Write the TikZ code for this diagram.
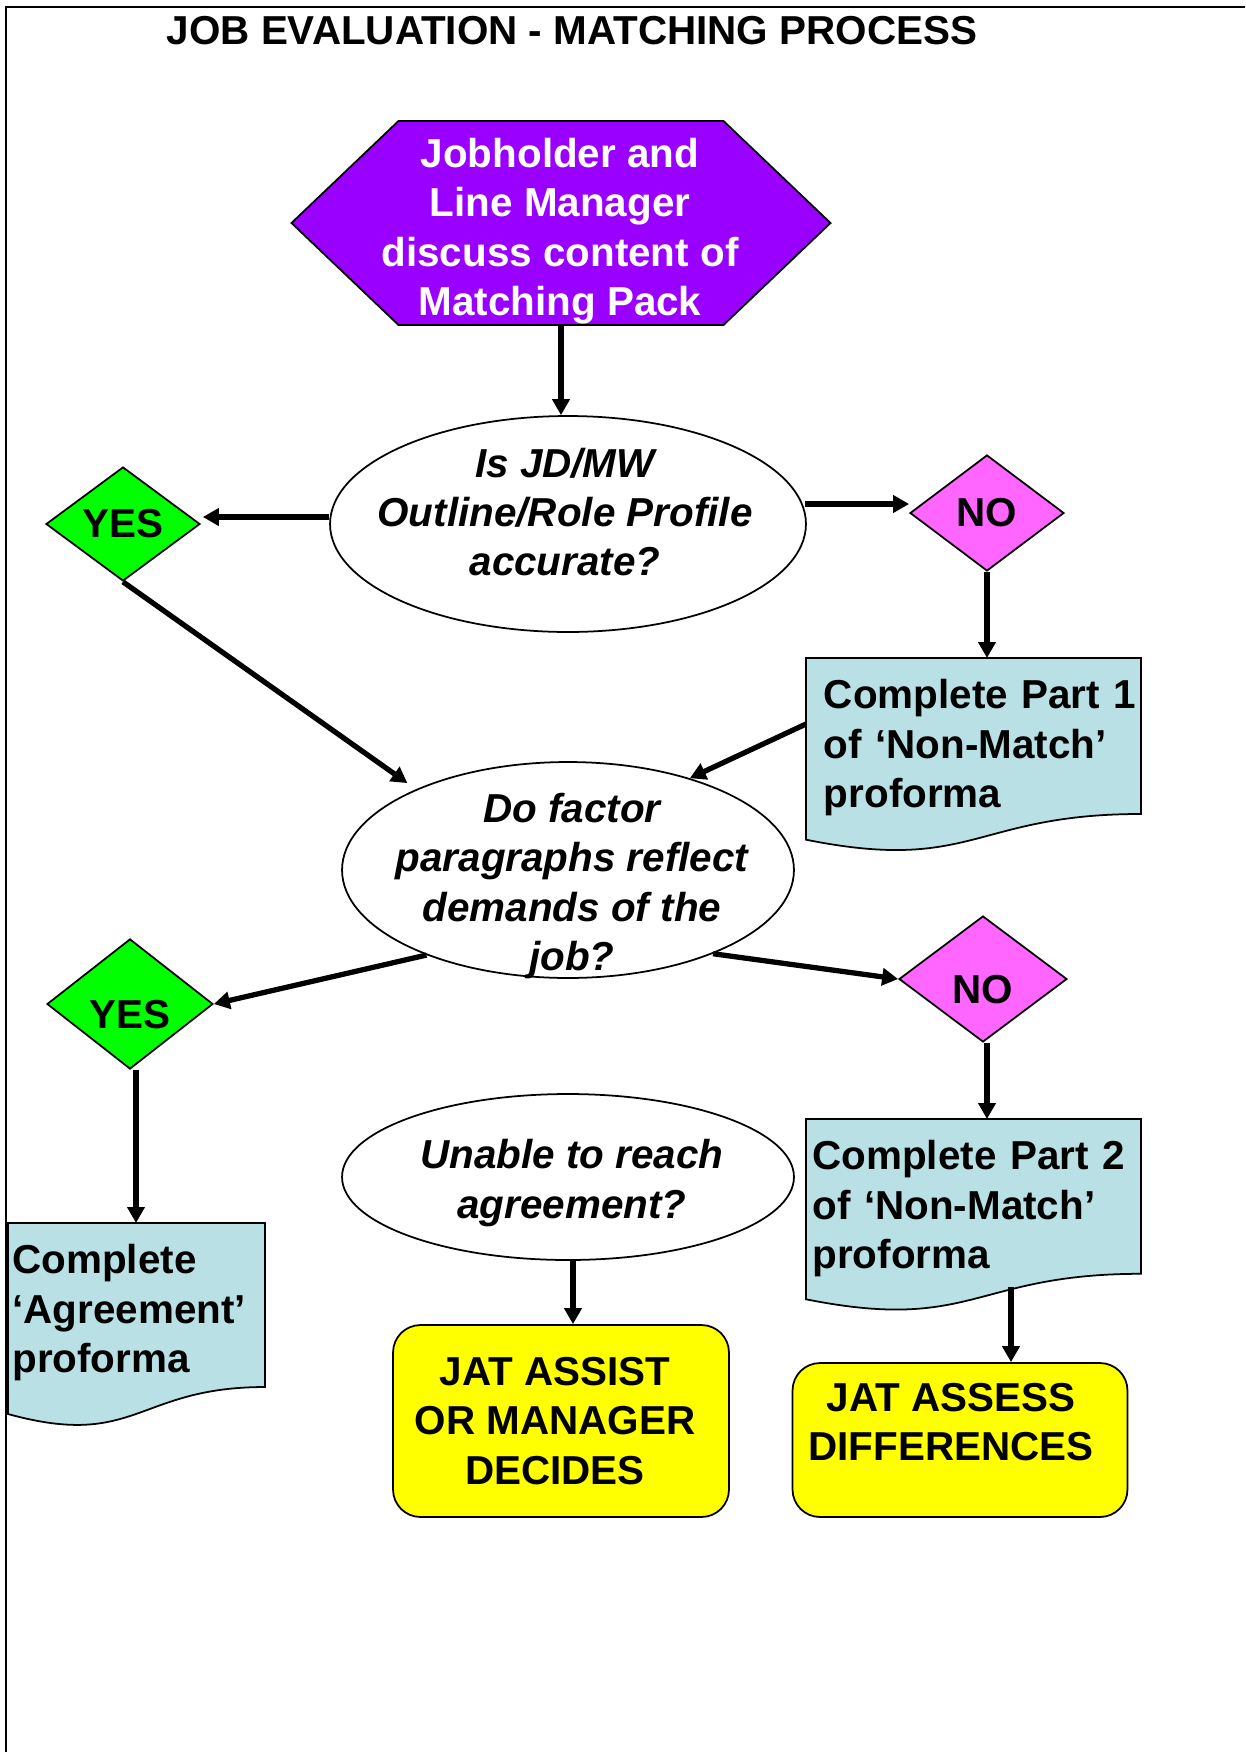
\documentclass[tikz,border=0pt]{standalone}
\usepackage{fontspec}
\setmainfont{Liberation Sans}
\usetikzlibrary{positioning,shapes.geometric,arrows.meta,calc,backgrounds}

\definecolor{hexpurple}{RGB}{153,0,255}
\definecolor{yesgreen}{RGB}{0,255,0}
\definecolor{nopink}{RGB}{255,102,255}
\definecolor{formblue}{RGB}{185,224,228}
\definecolor{jatyellow}{RGB}{255,255,0}

\newcommand{\bigbold}{\fontsize{23}{28.1}\selectfont\bfseries}
\newcommand{\bigital}{\bigbold\itshape}

% proforma sheet behind a text node: name, width, height
\newcommand{\proforma}[3]{%
\begin{scope}[on background layer]
\draw[sheet] (#1.north west) -- ($(#1.north west)+(#2,0)$)
  -- ($(#1.north west)+(#2,0.802*#3)$)
  .. controls ($(#1.north west)+(0.5*#2,0.802*#3)$) and ($(#1.north west)+(0.5*#2,1.1075*#3)$)
  .. ($(#1.north west)+(0,0.934*#3)$) -- cycle;
\end{scope}}

\begin{document}
\begin{tikzpicture}[
x=0.02cm, y=-0.02cm,
every node/.style={font=\bigbold},
hexbox/.style={inner sep=0pt, minimum width=6.5cm, minimum height=4.08cm},
hexline/.style={draw, line width=1pt, fill=hexpurple},
hextext/.style={text=white, align=center},
quest/.style={ellipse, draw, line width=1pt, fill=white, inner sep=0pt},
qtext/.style={font=\bigital, align=center},
yesbox/.style={diamond, draw, line width=1pt, fill=yesgreen, inner sep=0pt},
nobox/.style={diamond, draw, line width=1pt, fill=nopink, inner sep=0pt},
lowtext/.style={text height=28pt, text depth=0pt},
sheet/.style={draw, line width=1pt, fill=formblue},
sheettext/.style={anchor=north west, align=left, inner ysep=12pt},
jatbox/.style={draw, line width=1pt, fill=jatyellow, rounded corners=0.55cm},
arr/.style={-{Triangle[length=0.32cm,width=0.34cm]}, line width=3pt},
pageframe/.style={line width=1.2pt}]

\useasboundingbox (0,0) rectangle (1245,1752);
\draw[pageframe] (6,1752) -- (6,7) -- (1245,7);

\node (title) at (572,31) {JOB EVALUATION - MATCHING PROCESS};

\node[hexbox] (hexa) at (561,223) {};
\begin{scope}[on background layer]
\draw[hexline] ($(hexa.center)+(-162.5,-102)$) -- ++(325,0) -- ++(107,102)
  -- ++(-107,102) -- ++(-325,0) -- ++(-107,-102) -- cycle;
\end{scope}
\node[hextext] (hexatext) at (560,231) {Jobholder and\\Line Manager\\discuss content of\\Matching Pack};

\node[quest, minimum width=9.52cm, minimum height=4.32cm] (q1) at (568,524) {};
\node[qtext] (q1text) at (565,512) {Is JD/MW\\Outline/Role Profile\\accurate?};

\node[yesbox, minimum width=3.08cm, minimum height=2.28cm] (yes1) at (123,524) {YES};
\node[nobox, minimum width=3.08cm, minimum height=2.32cm] (no1) at (987,513) {NO};

\node[sheettext, text width=6.5cm, inner xsep=10pt] (part1) at (806,658) {Complete Part 1\\of ‘Non-Match’\\proforma};
\proforma{part1}{335}{194.5}

\node[quest, minimum width=9.04cm, minimum height=4.32cm] (q2) at (568,870) {};
\node[qtext] (q2text) at (572,886) {Do factor\\paragraphs reflect\\demands of the\\job?};

\node[yesbox, lowtext, minimum width=3.32cm, minimum height=2.52cm] (yes2) at (130,1004) {YES};
\node[nobox, lowtext, minimum width=3.36cm, minimum height=2.52cm] (no2) at (983,979) {NO};

\node[sheettext, text width=6.5cm, inner xsep=3.5pt] (part2) at (806,1119) {Complete Part 2\\of ‘Non-Match’\\proforma};
\proforma{part2}{335}{193}

\node[sheettext, text width=5cm, inner xsep=2.3pt] (agree) at (8,1223) {Complete\\‘Agreement’\\proforma};
\proforma{agree}{257}{204.5}

\node[quest, minimum width=9.04cm, minimum height=3.32cm] (q3) at (568,1177) {};
\node[qtext] (q3text) at (572,1183) {Unable to reach\\agreement?};

\node[jatbox, minimum width=6.72cm, minimum height=3.84cm] (jatassist) at (561,1421) {};
\node[align=center] (jatassisttext) at (555,1421) {JAT ASSIST\\OR MANAGER\\DECIDES};
\node[jatbox, minimum width=6.7cm, minimum height=3.08cm] (jatassess) at (960,1440) {};
\node[align=center] (jatassesstext) at (951,1422) {JAT ASSESS\\DIFFERENCES};

\draw[arr] (hexa.south) -- (hexa.south |- q1.north);
\draw[arr] ($(q1.west)+(0,-7)$) -- ($(yes1.east)+(2,-7)$);
\draw[arr] ($(q1.east)+(-2,-20)$) -- ($(no1.west)+(0,-9)$);
\draw[arr] (no1.south) -- (no1.south |- part1.north);
\draw[arr] ($(part1.north west)+(0,66)$) -- (q2.37);
\draw[arr, shorten >=6pt] (yes1.south) -- (q2.152);
\draw[arr] (q2.211) -- (yes2.east);
\draw[arr] (q2.330) -- (no2.west);
\coordinate (no2foot) at ($(no2.south)+(4,0)$);
\draw[arr] (no2foot) -- (no2foot |- part2.north);
\coordinate (yes2foot) at ($(yes2.south)+(6,0)$);
\draw[arr] (yes2foot) -- (yes2foot |- agree.north);
\coordinate (q3foot) at ($(q3.south)+(5,0)$);
\draw[arr] (q3foot) -- (q3foot |- jatassist.north);
\coordinate (p2foot) at ($(part2.north west)+(205,168)$);
\draw[arr] (p2foot) -- (p2foot |- jatassess.north);

\end{tikzpicture}
\end{document}
